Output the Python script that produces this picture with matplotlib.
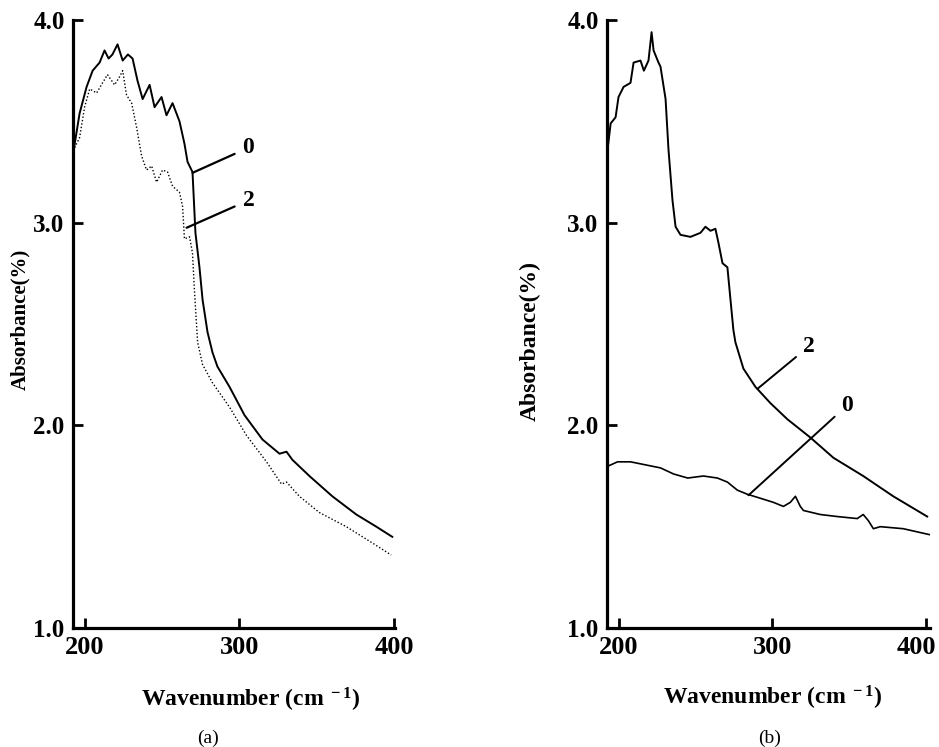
import matplotlib
matplotlib.use("Agg")
import matplotlib.pyplot as plt
from matplotlib.transforms import ScaledTranslation

plt.rcParams['font.family'] = ['Liberation Serif', 'DejaVu Serif']
plt.rcParams['mathtext.fontset'] = 'custom'
plt.rcParams['mathtext.rm'] = 'Liberation Serif:bold'
plt.rcParams['mathtext.it'] = 'Liberation Serif:bold'
plt.rcParams['mathtext.bf'] = 'Liberation Serif:bold'

# panel (a): sample 0 (solid) and sample 2 (dotted)
a0_x = [193, 196.8, 201.3, 205.2, 209.7, 212.9, 215.5, 218, 221.3, 224.6, 228, 231,
        234.2, 237.5, 242, 245.2, 249.7, 252.9, 256.8, 261.3, 264.5, 266.5, 269.7,
        271.6, 274.2, 276.2, 279.4, 282.6, 285.8, 293.6, 303.3, 314.9, 325.9,
        330.4, 334.2, 345.2, 360, 375.5, 388.4, 398.7]
a0_y = [3.36, 3.54, 3.67, 3.75, 3.79, 3.85, 3.81, 3.83, 3.88, 3.80, 3.83, 3.81,
        3.70, 3.61, 3.68, 3.57, 3.62, 3.53, 3.59, 3.50, 3.39, 3.30, 3.25,
        2.95, 2.78, 2.62, 2.46, 2.36, 2.29, 2.19, 2.05, 1.93, 1.86,
        1.87, 1.83, 1.75, 1.65, 1.56, 1.50, 1.45]

a2_x = [193.6, 196.8, 200, 203.3, 207.8, 211.6, 214.8, 219.4, 222.6, 224.6, 227.1,
        230.4, 233.6, 236.8, 240, 243.3, 246.5, 250.4, 253.6, 256.8, 261.3, 263.3,
        264.5, 267.8, 269.7, 271, 273, 276.2, 282.6, 293.6, 304.6, 317.5, 327.2,
        330.4, 338.7, 351.6, 369, 385.8, 398]
a2_y = [3.37, 3.42, 3.57, 3.66, 3.64, 3.69, 3.73, 3.68, 3.72, 3.75, 3.63,
        3.59, 3.47, 3.33, 3.26, 3.28, 3.20, 3.26, 3.25, 3.18, 3.15, 3.08,
        2.92, 2.93, 2.85, 2.66, 2.41, 2.30, 2.21, 2.09, 1.95, 1.82, 1.71,
        1.72, 1.65, 1.57, 1.50, 1.42, 1.36]

# panel (b): sample 2 (upper) and sample 0 (lower)
b2_x = [192.9, 194.9, 198.1, 200, 203.3, 207.8, 209.8, 214.3, 216.5, 219.5, 221.5,
        222.8, 226, 227.3, 230.6, 232.5, 235.1, 237.1, 240.3, 246.8, 253.3, 256.5,
        259.8, 263, 265, 267.6, 270.8, 272.8, 274.7, 276, 281.2, 289, 298.7,
        309.8, 324.7, 339.7, 359.1, 378.6, 400.7]
b2_y = [3.36, 3.49, 3.52, 3.62, 3.67, 3.69, 3.79, 3.80, 3.75, 3.80, 3.94,
        3.85, 3.79, 3.77, 3.61, 3.36, 3.11, 2.98, 2.94, 2.93, 2.95, 2.98,
        2.96, 2.97, 2.90, 2.80, 2.78, 2.62, 2.47, 2.41, 2.28, 2.19, 2.11,
        2.03, 1.94, 1.84, 1.75, 1.65, 1.55]

b0_x = [193.5, 199.4, 207.8, 220.8, 227.3, 235.8, 245, 255.2, 264.3, 270.8, 277.3,
        283.8, 292.3, 300.7, 307.2, 311.7, 315, 318.2, 320.2, 331.2, 342.2, 355.2,
        359.1, 362.4, 365.7, 370.2, 385.1, 402.6]
b0_y = [1.80, 1.82, 1.82, 1.80, 1.79, 1.76, 1.74, 1.75, 1.74, 1.72, 1.68,
        1.66, 1.64, 1.62, 1.60, 1.62, 1.65, 1.60, 1.58, 1.56, 1.55, 1.54,
        1.56, 1.53, 1.49, 1.50, 1.49, 1.46]

x_ticks = [200, 300, 400]
y_ticks = [1.0, 2.0, 3.0, 4.0]

fig = plt.figure(figsize=(9.39, 7.47), dpi=100)
ax1 = fig.add_axes([0.0777, 0.1593, 0.343, 0.8139])
ax2 = fig.add_axes([0.6464, 0.1593, 0.344, 0.8139])


def style(ax, xmax):
    ax.set_xlim(192.5, xmax)
    ax.set_ylim(1.0, 4.0)
    ax.spines['top'].set_visible(False)
    ax.spines['right'].set_visible(False)
    for s in ['left', 'bottom']:
        ax.spines[s].set_linewidth(2.3)
    ax.set_xticks(x_ticks)
    ax.set_yticks(y_ticks)
    ax.set_yticklabels(['%.1f' % v for v in y_ticks])
    ax.tick_params(direction='in', length=7, width=2)
    ax.tick_params(axis='x', pad=6)
    ax.tick_params(axis='y', pad=6)
    for lab in ax.get_xticklabels():
        lab.set_fontsize(19)
        lab.set_fontweight('bold')
    for lab in ax.get_yticklabels():
        lab.set_fontsize(18)
        lab.set_fontweight('bold')
    ax.set_xlabel('Wavenumber (cm$^{\\ -1}$)', fontsize=17, fontweight='bold')


style(ax1, 400.5)
style(ax2, 402.5)

# last tick label of panel (b) sits a little left, as in the original
last = ax2.get_xticklabels()[-1]
last.set_transform(last.get_transform() + ScaledTranslation(-0.1, 0, fig.dpi_scale_trans))

# (a)
ax1.plot(a0_x, a0_y, color='black', lw=1.4)
ax1.plot(a2_x, a2_y, color='black', lw=1.0, linestyle=(0, (1, 1.5)))
ax1.annotate('0', xy=(269.7, 3.246), xytext=(302, 3.37), fontsize=17,
             fontweight='bold', va='center',
             arrowprops=dict(arrowstyle='-', color='black', lw=1.6, shrinkA=4, shrinkB=0))
ax1.annotate('2', xy=(265.9, 2.975), xytext=(302, 3.11), fontsize=17,
             fontweight='bold', va='center',
             arrowprops=dict(arrowstyle='-', color='black', lw=1.6, shrinkA=4, shrinkB=0))
ax1.set_ylabel('Absorbance(%)', fontsize=15, fontweight='bold')
ax1.xaxis.set_label_coords(0.55, -0.095)
ax1.yaxis.set_label_coords(-0.134, 0.508)

# (b)
ax2.plot(b2_x, b2_y, color='black', lw=1.4)
ax2.plot(b0_x, b0_y, color='black', lw=1.2)
ax2.annotate('2', xy=(290.3, 2.18), xytext=(320, 2.39), fontsize=17,
             fontweight='bold', va='center',
             arrowprops=dict(arrowstyle='-', color='black', lw=1.4, shrinkA=4, shrinkB=0))
ax2.annotate('0', xy=(284.5, 1.655), xytext=(345, 2.10), fontsize=17,
             fontweight='bold', va='center',
             arrowprops=dict(arrowstyle='-', color='black', lw=1.4, shrinkA=4, shrinkB=0))
ax2.set_ylabel('Absorbance(%)', fontsize=17, fontweight='bold')
ax2.xaxis.set_label_coords(0.514, -0.092)
ax2.yaxis.set_label_coords(-0.204, 0.472)

fig.text(208 / 939, 1 - 738 / 747, '(a)', fontsize=14, ha='center', va='center')
fig.text(770 / 939, 1 - 738 / 747, '(b)', fontsize=14, ha='center', va='center')

fig.savefig('out.png', dpi=100)
